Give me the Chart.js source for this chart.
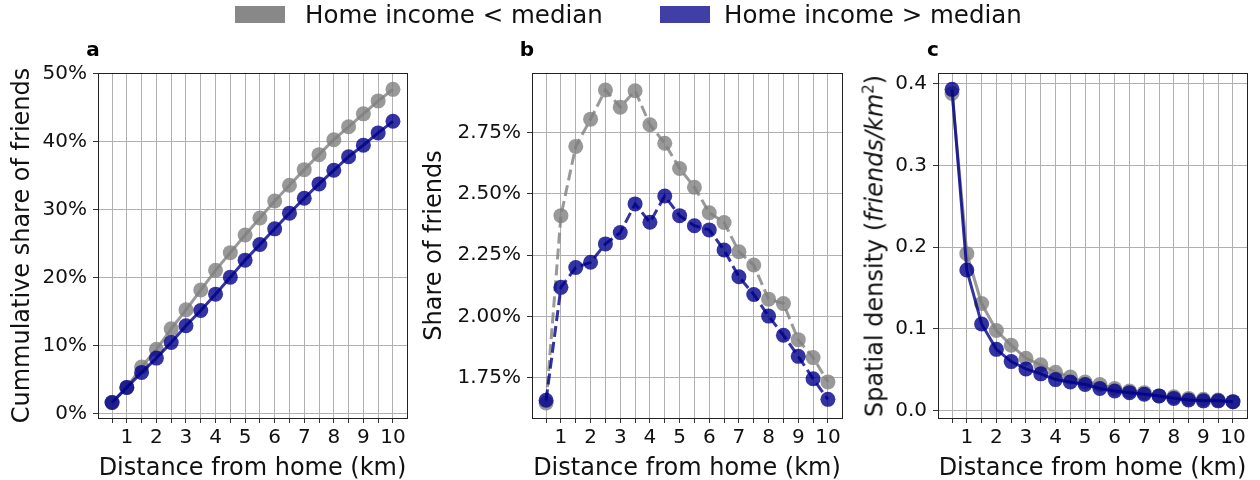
<!DOCTYPE html>
<html>
<head>
<meta charset="utf-8">
<script src="https://cdn.jsdelivr.net/npm/chart.js@4/dist/chart.umd.min.js"></script>
<style>
  html, body { margin: 0; padding: 0; background: #fff; }
  body { width: 1260px; height: 480px; position: relative; overflow: hidden; font-family: "DejaVu Sans", sans-serif; }
  canvas { position: absolute; top: 0; }
  .legend { position: absolute; top: 0; left: 0; width: 1260px; height: 30px; z-index: 5; }
  .patch { position: absolute; top: 6px; width: 50px; height: 17px; }
  .ltext { position: absolute; top: 0px; font-size: 24.5px; line-height: 29px; color: #111; white-space: nowrap; }
  .ytitle { position: absolute; font-size: 24px; line-height: 29px; color: #111; white-space: nowrap;
            transform: translate(-50%, -50%) rotate(-90deg); z-index: 5; }
</style>
</head>
<body>
<div class="legend">
  <div class="patch" style="left:235px; background:#888888;"></div>
  <div class="ltext" style="left:305px;">Home income &lt; median</div>
  <div class="patch" style="left:660px; background:#3f3fa6;"></div>
  <div class="ltext" style="left:724px;">Home income &gt; median</div>
</div>
<canvas id="ca" width="420" height="480" style="left:0px;"></canvas>
<canvas id="cb" width="430" height="480" style="left:420px;"></canvas>
<canvas id="cc" width="410" height="480" style="left:850px;"></canvas>
<div class="ytitle" style="left:872px; top:246px;">Spatial density (<i>friends/km</i><sup style="font-size:15px;">2</sup>)</div>
<script>
// ---- data ----
const distanceKm = [0.5,1,1.5,2,2.5,3,3.5,4,4.5,5,5.5,6,6.5,7,7.5,8,8.5,9,9.5,10];
const seriesNames = ['Home income < median', 'Home income > median'];
const cumLow  = [1.67,3.9,6.9,9.5,12.5,15.3,18.2,21.1,23.7,26.3,28.8,31.3,33.6,35.9,38.1,40.3,42.2,44.1,46.0,47.7];
const cumHigh = [1.67,3.9,6.1,8.2,10.5,12.95,15.2,17.6,20.1,22.6,24.9,27.2,29.5,31.7,33.8,35.8,37.8,39.5,41.3,43.0];
const shareLow  = [1.648,2.411,2.693,2.804,2.923,2.853,2.920,2.781,2.706,2.603,2.527,2.423,2.383,2.264,2.210,2.071,2.053,1.906,1.833,1.734];
const shareHigh = [1.659,2.119,2.200,2.221,2.296,2.342,2.459,2.384,2.491,2.411,2.370,2.353,2.271,2.162,2.090,2.002,1.924,1.838,1.747,1.663];
const densLow  = [0.388,0.192,0.131,0.098,0.080,0.064,0.056,0.047,0.041,0.035,0.032,0.027,0.024,0.022,0.018,0.017,0.015,0.014,0.013,0.011];
const densHigh = [0.393,0.172,0.106,0.075,0.060,0.051,0.045,0.038,0.035,0.032,0.027,0.024,0.022,0.020,0.018,0.015,0.013,0.012,0.012,0.011];
const cumTicks = [0,10,20,30,40,50];
const shareTicks = [1.75,2.00,2.25,2.50,2.75];
const densTicks = [0,0.1,0.2,0.3,0.4];

// ---- styling ----
const GREY = 'rgba(128,128,128,0.8)';
const BLUE = 'rgba(0,0,139,0.8)';
const FONT = '"DejaVu Sans", sans-serif';

const framePlugin = {
  id: 'frame',
  afterDraw(chart) {
    const a = chart.chartArea, ctx = chart.ctx;
    ctx.save();
    ctx.strokeStyle = '#222';
    ctx.lineWidth = 1;
    ctx.strokeRect(Math.round(a.left) + 0.5, Math.round(a.top) + 0.5, Math.round(a.right - a.left), Math.round(a.bottom - a.top));
    const letter = chart.options.plugins.panelLetter.text;
    ctx.fillStyle = '#000';
    ctx.font = 'bold 20px ' + FONT;
    ctx.textAlign = 'center';
    ctx.textBaseline = 'middle';
    ctx.fillText(letter, a.left - 5, 51);
    ctx.restore();
  }
};

function makeChart(id, cfg) {
  const pts = (arr) => distanceKm.map((x, i) => ({x: x, y: arr[i]}));
  const ds = (name, arr, color) => ({
    label: name, data: pts(arr), borderColor: color, backgroundColor: color,
    pointBackgroundColor: color, pointBorderWidth: 0, pointRadius: 7.5, borderWidth: 3,
    borderDash: cfg.dash, tension: 0, fill: false
  });
  return new Chart(document.getElementById(id), {
    type: 'line',
    data: { datasets: [ ds(seriesNames[1], cfg.high, BLUE), ds(seriesNames[0], cfg.low, GREY) ] },
    plugins: [framePlugin],
    options: {
      responsive: false, animation: false, devicePixelRatio: 1,
      layout: { padding: { left: 0, right: cfg.rightPad, top: 73, bottom: 0 } },
      plugins: { legend: { display: false }, tooltip: { enabled: false }, panelLetter: { text: cfg.letter } },
      scales: {
        x: {
          type: 'linear', min: 0.025, max: 10.475,
          afterBuildTicks: (s) => { s.ticks = distanceKm.map(v => ({value: v})); },
          afterFit: (s) => { s.height = 62; },
          ticks: { autoSkip: false, maxRotation: 0, padding: 3, color: '#111', font: { family: FONT, size: 20 },
                   callback: (v) => Number.isInteger(v) ? String(v) : '' },
          grid: { color: '#b0b0b0', lineWidth: 1, drawTicks: true, tickLength: 5, tickColor: '#333' },
          border: { display: false },
          title: { display: true, text: 'Distance from home (km)', color: '#111', font: { family: FONT, size: 24 }, padding: { top: 0, bottom: -3 } }
        },
        y: {
          type: 'linear', min: cfg.ymin, max: cfg.ymax,
          afterBuildTicks: (s) => { s.ticks = cfg.yticks.map(v => ({value: v})); },
          afterFit: (s) => { s.width = cfg.yWidth; },
          ticks: { autoSkip: false, padding: 6, color: '#111', font: { family: FONT, size: 20 }, callback: cfg.yfmt },
          grid: { color: '#b0b0b0', lineWidth: 1, drawTicks: true, tickLength: 5, tickColor: '#333' },
          border: { display: false },
          title: { display: cfg.ytitle !== '', text: cfg.ytitle, color: '#111', font: { family: FONT, size: 24 }, padding: { top: cfg.ytitlePad, bottom: 0 } }
        }
      }
    }
  });
}

makeChart('ca', { letter: 'a', low: cumLow, high: cumHigh, dash: [], rightPad: 13, yWidth: 98,
  ymin: -0.6, ymax: 50.1, yticks: cumTicks, yfmt: (v) => v + '%',
  ytitle: 'Cummulative share of friends', ytitlePad: 8 });
makeChart('cb', { letter: 'b', low: shareLow, high: shareHigh, dash: [11, 5], rightPad: 8, yWidth: 112,
  ymin: 1.587, ymax: 2.992, yticks: shareTicks, yfmt: (v) => v.toFixed(2) + '%',
  ytitle: 'Share of friends', ytitlePad: 0 });
makeChart('cc', { letter: 'c', low: densLow, high: densHigh, dash: [], rightPad: 13, yWidth: 88,
  ymin: -0.009, ymax: 0.413, yticks: densTicks, yfmt: (v) => v.toFixed(1),
  ytitle: '', ytitlePad: 0 });
</script>
</body>
</html>
